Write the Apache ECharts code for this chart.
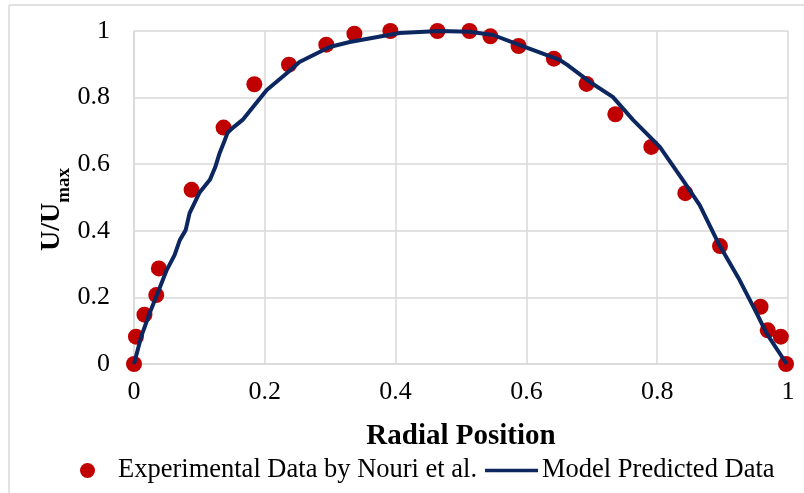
<!DOCTYPE html>
<html>
<head>
<meta charset="utf-8">
<script src="https://cdn.jsdelivr.net/npm/echarts@6/dist/echarts.min.js"></script>
<style>
  html, body { margin: 0; padding: 0; background: #fff; }
  #chart { width: 804px; height: 493px; }
</style>
</head>
<body>
<div id="chart"></div>
<script>
// Measured velocity profile (Nouri et al.)
const expX = [0, 0.003, 0.016, 0.034, 0.038, 0.088, 0.137, 0.184, 0.237, 0.294, 0.337, 0.392, 0.464, 0.513, 0.545, 0.588, 0.642, 0.692, 0.736, 0.791, 0.843, 0.896, 0.958, 0.969, 0.989, 0.997];
const expY = [0, 0.082, 0.148, 0.207, 0.287, 0.523, 0.710, 0.840, 0.899, 0.959, 0.992, 1.0, 1.0, 1.0, 0.984, 0.955, 0.917, 0.841, 0.750, 0.652, 0.513, 0.354, 0.172, 0.101, 0.082, 0.0];

// Model prediction
const modelX = [0, 0.011, 0.024, 0.035, 0.050, 0.062, 0.070, 0.079, 0.085, 0.100, 0.116, 0.124, 0.131, 0.138, 0.143, 0.151, 0.166, 0.182, 0.203, 0.234, 0.253, 0.299, 0.330, 0.406, 0.467, 0.513, 0.549, 0.589, 0.651, 0.662, 0.700, 0.732, 0.763, 0.804, 0.839, 0.865, 0.895, 0.926, 0.952, 0.967, 0.998];
const modelY = [0, 0.082, 0.153, 0.207, 0.282, 0.327, 0.372, 0.402, 0.453, 0.514, 0.553, 0.590, 0.634, 0.668, 0.694, 0.709, 0.733, 0.772, 0.823, 0.874, 0.907, 0.952, 0.967, 0.994, 1.0, 0.998, 0.988, 0.958, 0.913, 0.899, 0.843, 0.802, 0.733, 0.652, 0.553, 0.477, 0.357, 0.252, 0.153, 0.093, 0];

// Axis ticks
const xTicks = [0, 0.2, 0.4, 0.6, 0.8, 1];
const yTicks = [0, 0.2, 0.4, 0.6, 0.8, 1];

const seriesNames = ['Experimental Data by Nouri et al.', 'Model Predicted Data'];

const FONT = '"Liberation Serif", "Times New Roman", serif';
const GRID_COLOR = '#d9d9d9';
const RED = '#c00000';
const NAVY = '#0c2660';

const expData = expX.map((x, i) => [x, expY[i]]);
const modelData = modelX.map((x, i) => [x, modelY[i]]);

const legendText = { fontFamily: FONT, fontSize: 26.5, color: '#000' };

const chart = echarts.init(document.getElementById('chart'));
chart.setOption({
  animation: false,
  backgroundColor: '#fff',
  textStyle: { fontFamily: FONT, color: '#000' },
  grid: { left: 134, right: 16, top: 31, bottom: 129, containLabel: false },
  xAxis: {
    type: 'value',
    min: xTicks[0],
    max: xTicks[xTicks.length - 1],
    interval: 0.2,
    axisLine: { show: true, lineStyle: { color: GRID_COLOR, width: 1.5 } },
    axisTick: { show: false },
    splitLine: { show: true, lineStyle: { color: GRID_COLOR, width: 1.5 } },
    axisLabel: { fontFamily: FONT, fontSize: 26, color: '#000', margin: 15,
      formatter: v => String(+v.toFixed(1)) },
    name: 'Radial Position',
    nameLocation: 'middle',
    nameGap: 58,
    nameMoveOverlap: false,
    nameTextStyle: { fontFamily: FONT, fontSize: 29, fontWeight: 'bold', color: '#000' }
  },
  yAxis: {
    type: 'value',
    min: yTicks[0],
    max: yTicks[yTicks.length - 1],
    interval: 0.2,
    axisLine: { show: true, lineStyle: { color: GRID_COLOR, width: 1.5 } },
    axisTick: { show: false },
    splitLine: { show: true, lineStyle: { color: GRID_COLOR, width: 1.5 } },
    axisLabel: { fontFamily: FONT, fontSize: 26, color: '#000', margin: 24,
      formatter: v => String(+v.toFixed(1)) },
    name: '{a|U/U}{b|max}',
    nameLocation: 'middle',
    nameRotate: 90,
    nameGap: 60,
    nameMoveOverlap: false,
    nameTextStyle: {
      rich: {
        a: { fontFamily: FONT, fontSize: 28, fontWeight: 'bold', color: '#000' },
        b: { fontFamily: FONT, fontSize: 19, fontWeight: 'bold', color: '#000', padding: [25, 24, 0, 0] }
      }
    }
  },
  legend: [
    {
      left: 75,
      top: 452,
      padding: 5,
      itemWidth: 15,
      itemHeight: 15,
      textStyle: Object.assign({ padding: [0, 0, 0, 18] }, legendText),
      data: [{ name: seriesNames[0], icon: 'circle', itemStyle: { color: RED, opacity: 1 } }]
    },
    {
      left: 480,
      top: 452,
      padding: 5,
      itemWidth: 53,
      itemHeight: 3.5,
      textStyle: Object.assign({ padding: [0, 0, 0, -1] }, legendText),
      data: [{ name: seriesNames[1], icon: 'rect', itemStyle: { color: NAVY } }]
    }
  ],
  series: [
    {
      name: seriesNames[0],
      type: 'scatter',
      data: expData,
      symbol: 'circle',
      symbolSize: 16,
      itemStyle: { color: RED, opacity: 1 },
      z: 2
    },
    {
      name: seriesNames[1],
      type: 'line',
      data: modelData,
      showSymbol: false,
      symbol: 'none',
      smooth: false,
      lineStyle: { color: NAVY, width: 4 },
      itemStyle: { color: NAVY },
      z: 3
    }
  ],
  graphic: [
    { type: 'line', shape: { x1: 9, y1: 5, x2: 804, y2: 5 }, style: { stroke: GRID_COLOR, lineWidth: 1.5 }, silent: true },
    { type: 'line', shape: { x1: 9, y1: 5, x2: 9, y2: 493 }, style: { stroke: GRID_COLOR, lineWidth: 1.5 }, silent: true }
  ]
});
</script>
</body>
</html>
